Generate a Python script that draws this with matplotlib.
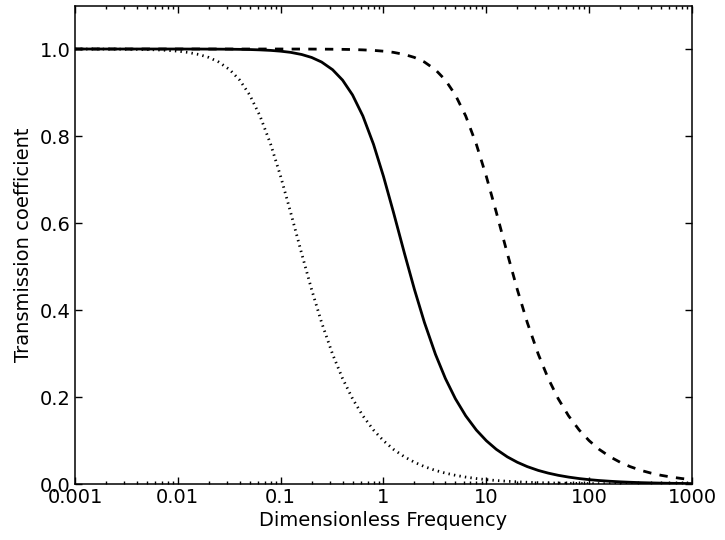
import matplotlib
matplotlib.use('Agg')
import matplotlib.pyplot as plt
from matplotlib.ticker import FixedLocator, LogLocator, NullFormatter

# dimensionless frequency grid (values at these points)
freq = [0.001, 0.00125, 0.0016, 0.002, 0.0025, 0.0032, 0.004, 0.005, 0.0063, 0.008,
        0.01, 0.0125, 0.016, 0.02, 0.025, 0.032, 0.04, 0.05, 0.063, 0.08,
        0.1, 0.125, 0.16, 0.2, 0.25, 0.32, 0.4, 0.5, 0.63, 0.8,
        1, 1.25, 1.6, 2, 2.5, 3.2, 4, 5, 6.3, 8,
        10, 12.5, 16, 20, 25, 32, 40, 50, 63, 80,
        100, 125, 160, 200, 250, 320, 400, 500, 630, 800,
        1000]

# dotted curve (lowest cut-off)
trans_dotted = [1.0, 0.9999, 0.9999, 0.9998, 0.9997, 0.9995, 0.9992, 0.9988, 0.998, 0.9968,
                0.995, 0.9923, 0.9874, 0.9806, 0.9701, 0.9524, 0.9285, 0.8944, 0.8461, 0.7809,
                0.7071, 0.6247, 0.53, 0.4472, 0.3714, 0.2983, 0.2425, 0.1961, 0.1568, 0.124,
                0.0995, 0.0797, 0.0624, 0.05, 0.04, 0.0312, 0.025, 0.02, 0.0159, 0.0125,
                0.01, 0.008, 0.0063, 0.005, 0.004, 0.0031, 0.0025, 0.002, 0.0016, 0.0013,
                0.001, 0.0008, 0.0006, 0.0005, 0.0004, 0.0003, 0.0003, 0.0002, 0.0002, 0.0001,
                0.0001]

# solid curve
trans_solid = [1.0, 1.0, 1.0, 1.0, 1.0, 1.0, 1.0, 1.0, 1.0, 1.0,
               1.0, 0.9999, 0.9999, 0.9998, 0.9997, 0.9995, 0.9992, 0.9988, 0.998, 0.9968,
               0.995, 0.9923, 0.9874, 0.9806, 0.9701, 0.9524, 0.9285, 0.8944, 0.8461, 0.7809,
               0.7071, 0.6247, 0.53, 0.4472, 0.3714, 0.2983, 0.2425, 0.1961, 0.1568, 0.124,
               0.0995, 0.0797, 0.0624, 0.05, 0.04, 0.0312, 0.025, 0.02, 0.0159, 0.0125,
               0.01, 0.008, 0.0063, 0.005, 0.004, 0.0031, 0.0025, 0.002, 0.0016, 0.0013,
               0.001]

# dashed curve (highest cut-off)
trans_dashed = [1.0, 1.0, 1.0, 1.0, 1.0, 1.0, 1.0, 1.0, 1.0, 1.0,
                1.0, 1.0, 1.0, 1.0, 1.0, 1.0, 1.0, 1.0, 1.0, 1.0,
                1.0, 0.9999, 0.9999, 0.9998, 0.9997, 0.9995, 0.9992, 0.9988, 0.998, 0.9968,
                0.995, 0.9923, 0.9874, 0.9806, 0.9701, 0.9524, 0.9285, 0.8944, 0.8461, 0.7809,
                0.7071, 0.6247, 0.53, 0.4472, 0.3714, 0.2983, 0.2425, 0.1961, 0.1568, 0.124,
                0.0995, 0.0797, 0.0624, 0.05, 0.04, 0.0312, 0.025, 0.02, 0.0159, 0.0125,
                0.01]

x_ticks = [0.001, 0.01, 0.1, 1, 10, 100, 1000]
x_ticklabels = ['0.001', '0.01', '0.1', '1', '10', '100', '1000']
y_ticks = [0.0, 0.2, 0.4, 0.6, 0.8, 1.0]
y_ticklabels = ['0.0', '0.2', '0.4', '0.6', '0.8', '1.0']

plt.rcParams['font.family'] = ['DejaVu Sans']

fig = plt.figure(figsize=(7.25, 5.4), dpi=100)
ax = fig.add_axes([0.1034, 0.1037, 0.8511, 0.8861])

ax.plot(freq, trans_dotted, color='black', lw=2, linestyle=(0, (0.5, 1.5)))
ax.plot(freq, trans_solid, color='black', lw=2, linestyle='-')
ax.plot(freq, trans_dashed, color='black', lw=2, linestyle=(0, (3, 3)))

ax.set_xscale('log')
ax.set_xlim(0.001, 1000)
ax.set_ylim(0, 1.1)

ax.xaxis.set_major_locator(FixedLocator(x_ticks))
ax.set_xticklabels(x_ticklabels)
ax.xaxis.set_minor_locator(LogLocator(base=10, subs=range(2, 10), numticks=20))
ax.xaxis.set_minor_formatter(NullFormatter())
ax.set_yticks(y_ticks)
ax.set_yticklabels(y_ticklabels)

ax.tick_params(which='both', direction='in', top=True, right=True,
               labelsize=14, width=1, pad=3)
ax.tick_params(which='major', length=5)
ax.tick_params(which='minor', length=2.5)
for sp in ax.spines.values():
    sp.set_linewidth(1.1)

ax.set_xlabel('Dimensionless Frequency', fontsize=14, labelpad=3)
ax.set_ylabel('Transmission coefficient', fontsize=14, labelpad=5)

fig.savefig('out.png', dpi=100)
